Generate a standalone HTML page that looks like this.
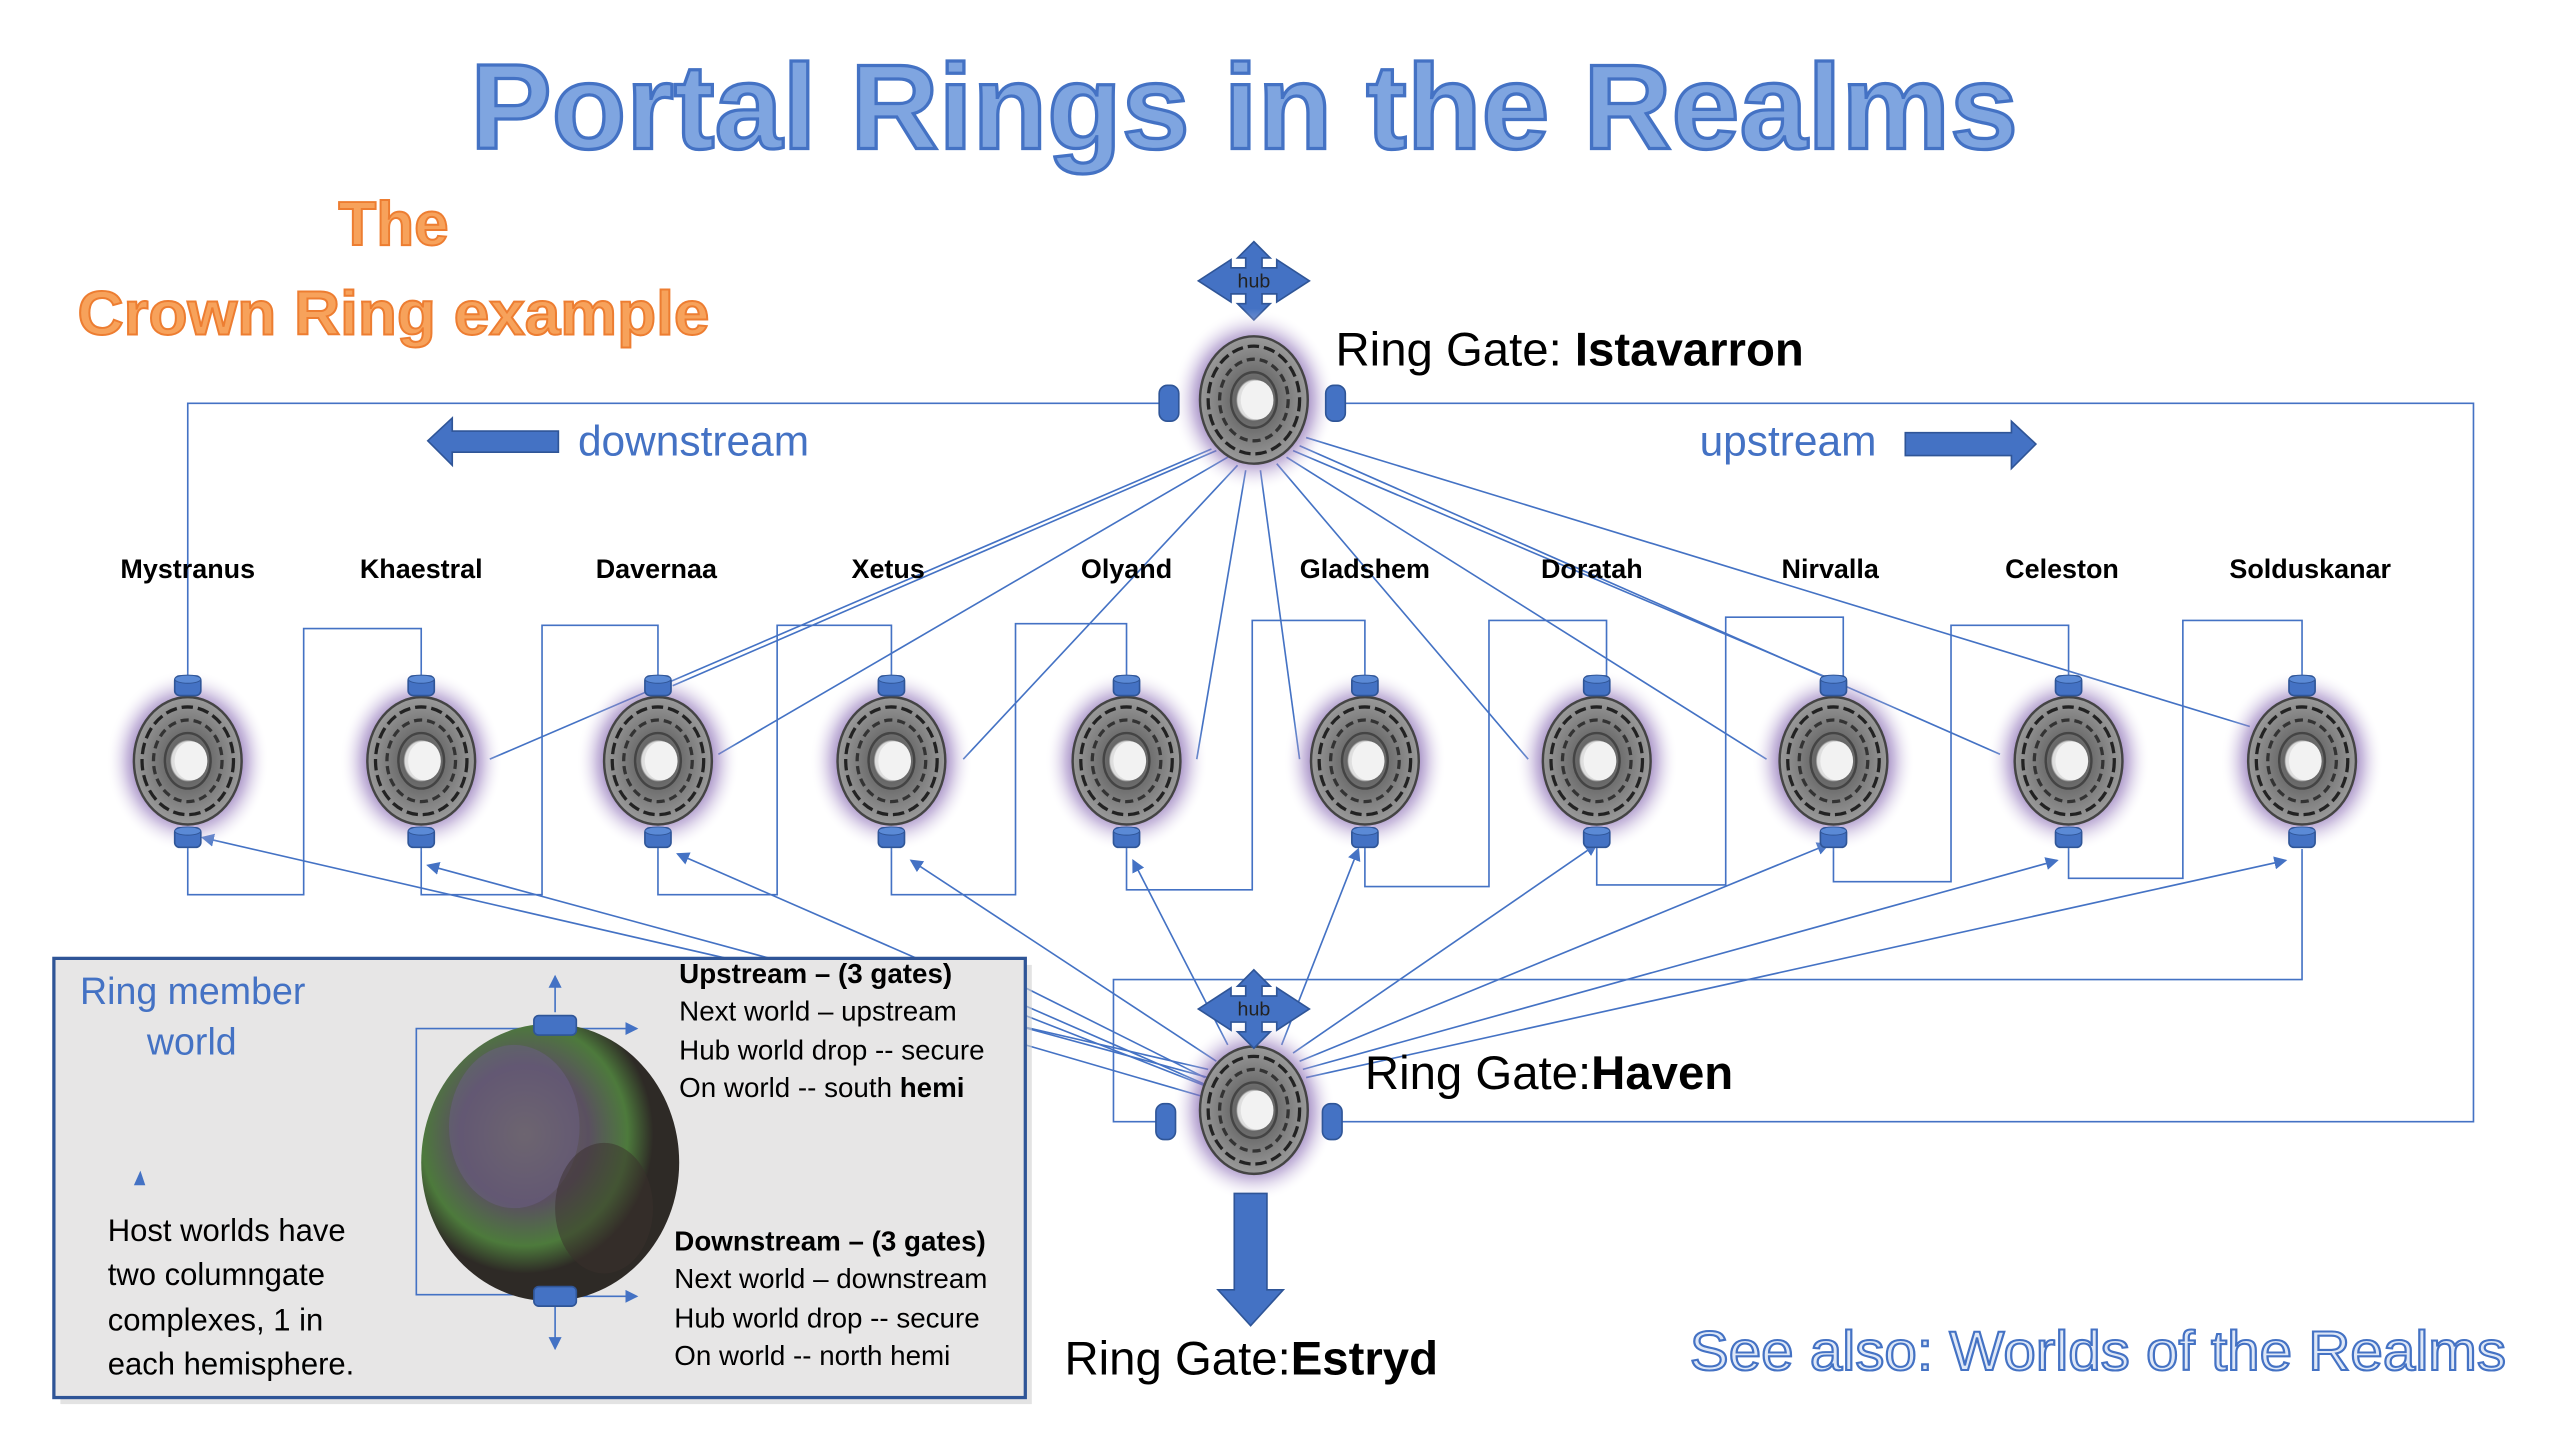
<!DOCTYPE html>
<html><head><meta charset="utf-8"><style>
html,body{margin:0;padding:0;background:#fff;width:2560px;height:1440px;overflow:hidden}
svg{display:block}
</style></head><body>
<svg width="2560" height="1440" viewBox="0 0 1568 882" xmlns="http://www.w3.org/2000/svg" font-family="'Liberation Sans', sans-serif">
<defs>
<radialGradient id="glow"><stop offset="0.55" stop-color="#6a4a9a" stop-opacity="0.9"/><stop offset="0.75" stop-color="#9a80c0" stop-opacity="0.5"/><stop offset="1" stop-color="#fff" stop-opacity="0"/></radialGradient>
<radialGradient id="disc" cx="0.5" cy="0.5"><stop offset="0" stop-color="#f4f4f4"/><stop offset="0.3" stop-color="#dcdcdc"/><stop offset="0.33" stop-color="#666"/><stop offset="1" stop-color="#9a9a9a"/></radialGradient>
<radialGradient id="planet" cx="0.4" cy="0.4"><stop offset="0" stop-color="#6e6a5a"/><stop offset="0.5" stop-color="#5a5060"/><stop offset="0.8" stop-color="#4d7a3c"/><stop offset="1" stop-color="#2e2a26"/></radialGradient>
<g id="ring">
<ellipse cx="0" cy="0" rx="50" ry="56" fill="url(#glow)"/>
<ellipse cx="0" cy="0" rx="33" ry="39" fill="url(#disc)" stroke="#444" stroke-width="1.5"/>
<ellipse cx="0" cy="0" rx="28" ry="33" fill="none" stroke="#222" stroke-width="2" stroke-dasharray="7 3"/>
<ellipse cx="0" cy="0" rx="21" ry="25" fill="none" stroke="#333" stroke-width="2" stroke-dasharray="5 3"/>
<ellipse cx="0" cy="0" rx="14" ry="17" fill="none" stroke="#444" stroke-width="1.5"/>
<ellipse cx="2" cy="0" rx="10" ry="12" fill="#f2f2f2"/>
</g>
<g id="pill"><rect x="-8" y="-6" width="16" height="12" rx="3" fill="#4472c4" stroke="#2f5597"/><ellipse cx="0" cy="-4" rx="8" ry="2.5" fill="#5b8ad6" stroke="#2f5597" stroke-width="0.6"/></g>
<g id="vpill"><rect x="-6" y="-11" width="12" height="22" rx="5" fill="#4472c4" stroke="#2f5597"/></g>
<g id="hub"><path d="M0,-24 L10,-14 L5,-14 L5,-8 L14,-8 L14,-13 L34,0 L14,13 L14,8 L5,8 L5,14 L10,14 L0,24 L-10,14 L-5,14 L-5,8 L-14,8 L-14,13 L-34,0 L-14,-13 L-14,-8 L-5,-8 L-5,-14 L-10,-14 Z" fill="#4472c4" stroke="#2f5597"/><text x="0" y="4" font-size="12" text-anchor="middle" fill="#222">hub</text></g>
<marker id="ah" markerWidth="8" markerHeight="8" refX="7" refY="4" orient="auto" markerUnits="userSpaceOnUse"><path d="M0,0 L8,4 L0,8 Z" fill="#4472c4"/></marker>
</defs>

<text x="762" y="91" font-size="74" font-weight="bold" text-anchor="middle" fill="#7fa5e0" stroke="#4472c4" stroke-width="2" textLength="948" lengthAdjust="spacingAndGlyphs">Portal Rings in the Realms</text>
<text x="241" y="150" font-size="38" font-weight="bold" text-anchor="middle" fill="#f7a25b" stroke="#ed7d31" stroke-width="1.2">The</text>
<text x="241" y="205" font-size="38" font-weight="bold" text-anchor="middle" fill="#f7a25b" stroke="#ed7d31" stroke-width="1.2" textLength="387" lengthAdjust="spacingAndGlyphs">Crown Ring example</text>

<g stroke="#4472c4" stroke-width="1" fill="none">
<polyline points="115,415 115,247 712,247"/>
<polyline points="822,247 1515,247 1515,687 820,687"/>
<polyline points="710,687 682,687 682,600 1410,600 1410,520"/>
<polyline points="115,519 115,548 186,548 186,385 258,385 258,414"/>
<polyline points="258,519 258,548 332,548 332,383 403,383 403,414"/>
<polyline points="403,519 403,548 476,548 476,383 546,383 546,414"/>
<polyline points="546,519 546,548 622,548 622,382 690,382 690,414"/>
<polyline points="690,519 690,545 767,545 767,380 836,380 836,414"/>
<polyline points="836,519 836,543 912,543 912,380 984,380 984,414"/>
<polyline points="978,519 978,542 1057,542 1057,378 1129,378 1129,414"/>
<polyline points="1123,519 1123,540 1195,540 1195,383 1267,383 1267,414"/>
<polyline points="1267,519 1267,538 1337,538 1337,380 1410,380 1410,414"/>
<line x1="745" y1="276" x2="412" y2="420"/>
<line x1="752" y1="280" x2="440" y2="462"/>
<line x1="742" y1="275" x2="300" y2="465"/>
<line x1="758" y1="285" x2="590" y2="465"/>
<line x1="763" y1="288" x2="733" y2="465"/>
<line x1="772" y1="288" x2="796" y2="465"/>
<line x1="782" y1="284" x2="936" y2="465"/>
<line x1="788" y1="280" x2="1082" y2="465"/>
<line x1="792" y1="276" x2="1131" y2="420"/>
<line x1="796" y1="273" x2="1225" y2="462"/>
<line x1="800" y1="268" x2="1378" y2="445"/>
<g marker-end="url(#ah)">
<line x1="740" y1="655" x2="124" y2="513"/>
<line x1="740" y1="660" x2="262" y2="530"/>
<line x1="740" y1="665" x2="415" y2="523"/>
<line x1="745" y1="650" x2="558" y2="527"/>
<line x1="752" y1="640" x2="694" y2="527"/>
<line x1="785" y1="640" x2="832" y2="520"/>
<line x1="792" y1="645" x2="978" y2="517"/>
<line x1="796" y1="650" x2="1120" y2="517"/>
<line x1="798" y1="655" x2="1260" y2="527"/>
<line x1="800" y1="660" x2="1400" y2="527"/>
</g>
<line x1="628" y1="605" x2="738" y2="660"/>
<line x1="628" y1="622" x2="738" y2="665"/>
<line x1="628" y1="640" x2="738" y2="672"/>
</g>

<path d="M262,270 L277,256 L277,264 L342,264 L342,277 L277,277 L277,285 Z" fill="#4472c4" stroke="#2f5597"/>
<text x="354" y="279" font-size="26" fill="#4472c4">downstream</text>
<text x="1041" y="279" font-size="26" fill="#4472c4">upstream</text>
<path d="M1247,272 L1232,258 L1232,265 L1167,265 L1167,279 L1232,279 L1232,287 Z" fill="#4472c4" stroke="#2f5597"/>

<use href="#hub" x="768" y="172"/>
<use href="#ring" x="768" y="245"/>
<use href="#vpill" x="716" y="247"/>
<use href="#vpill" x="818" y="247"/>
<text x="818" y="224" font-size="29" fill="#000">Ring Gate: <tspan font-weight="bold">Istavarron</tspan></text>

<g font-size="16.5" font-weight="bold" text-anchor="middle" fill="#000">
<text x="115" y="354">Mystranus</text><text x="258" y="354">Khaestral</text><text x="402" y="354">Davernaa</text><text x="544" y="354">Xetus</text><text x="690" y="354">Olyand</text><text x="836" y="354">Gladshem</text><text x="975" y="354">Doratah</text><text x="1121" y="354">Nirvalla</text><text x="1263" y="354">Celeston</text><text x="1415" y="354">Solduskanar</text>
</g>
<g>
<use href="#ring" x="115" y="466"/><use href="#ring" x="258" y="466"/><use href="#ring" x="403" y="466"/><use href="#ring" x="546" y="466"/><use href="#ring" x="690" y="466"/><use href="#ring" x="836" y="466"/><use href="#ring" x="978" y="466"/><use href="#ring" x="1123" y="466"/><use href="#ring" x="1267" y="466"/><use href="#ring" x="1410" y="466"/>
<use href="#pill" x="115" y="420"/><use href="#pill" x="258" y="420"/><use href="#pill" x="403" y="420"/><use href="#pill" x="546" y="420"/><use href="#pill" x="690" y="420"/><use href="#pill" x="836" y="420"/><use href="#pill" x="978" y="420"/><use href="#pill" x="1123" y="420"/><use href="#pill" x="1267" y="420"/><use href="#pill" x="1410" y="420"/>
<use href="#pill" x="115" y="513"/><use href="#pill" x="258" y="513"/><use href="#pill" x="403" y="513"/><use href="#pill" x="546" y="513"/><use href="#pill" x="690" y="513"/><use href="#pill" x="836" y="513"/><use href="#pill" x="978" y="513"/><use href="#pill" x="1123" y="513"/><use href="#pill" x="1267" y="513"/><use href="#pill" x="1410" y="513"/>
</g>

<use href="#ring" x="768" y="680"/>
<use href="#hub" x="768" y="618"/>
<use href="#vpill" x="714" y="687"/>
<use href="#vpill" x="816" y="687"/>
<text x="836" y="667" font-size="29" fill="#000">Ring Gate:<tspan font-weight="bold">Haven</tspan></text>
<path d="M756,731 L776,731 L776,790 L786,790 L766,812 L746,790 L756,790 Z" fill="#4472c4" stroke="#2f5597"/>
<text x="652" y="842" font-size="29" fill="#000">Ring Gate:<tspan font-weight="bold">Estryd</tspan></text>

<text x="1035" y="839" font-size="34" fill="#dfe8f7" stroke="#4472c4" stroke-width="1.3" textLength="500" lengthAdjust="spacingAndGlyphs">See also: Worlds of the Realms</text>

<rect x="37" y="591" width="595" height="269" fill="#d0d0d0" opacity="0.6"/>
<rect x="33" y="587" width="595" height="269" fill="#e7e6e6" stroke="#2f5597" stroke-width="2"/>
<text x="49" y="615" font-size="23" fill="#4472c4">Ring member</text>
<text x="90" y="646" font-size="23" fill="#4472c4">world</text>
<path d="M86,717 L82,726 L89,726 Z" fill="#4472c4"/>
<g font-size="19" fill="#000">
<text x="66" y="760">Host worlds have</text>
<text x="66" y="787">two columngate</text>
<text x="66" y="815">complexes, 1 in</text>
<text x="66" y="842">each hemisphere.</text>
</g>
<g stroke="#4472c4" fill="none" stroke-width="1">
<polyline points="340,630 255,630 255,793 330,793"/>
<line x1="340" y1="620" x2="340" y2="598" marker-end="url(#ah)"/>
<line x1="356" y1="630" x2="390" y2="630" marker-end="url(#ah)"/>
<line x1="356" y1="794" x2="390" y2="794" marker-end="url(#ah)"/>
<line x1="340" y1="800" x2="340" y2="826" marker-end="url(#ah)"/>
</g>
<ellipse cx="337" cy="712" rx="79" ry="85" fill="url(#planet)"/>
<ellipse cx="315" cy="690" rx="40" ry="50" fill="#6b5f85" opacity="0.5"/>
<ellipse cx="370" cy="740" rx="30" ry="40" fill="#3a2f2c" opacity="0.5"/>
<rect x="327" y="622" width="26" height="12" rx="3" fill="#4472c4" stroke="#2f5597"/>
<rect x="327" y="788" width="26" height="12" rx="3" fill="#4472c4" stroke="#2f5597"/>
<g font-size="17" fill="#000">
<text x="416" y="602" font-weight="bold">Upstream – (3 gates)</text>
<text x="416" y="625">Next world – upstream</text>
<text x="416" y="649">Hub world drop -- secure</text>
<text x="416" y="672">On world -- south <tspan font-weight="bold">hemi</tspan></text>
<text x="413" y="766" font-weight="bold">Downstream – (3 gates)</text>
<text x="413" y="789">Next world – downstream</text>
<text x="413" y="813">Hub world drop -- secure</text>
<text x="413" y="836">On world -- north hemi</text>
</g>
</svg>
</body></html>
